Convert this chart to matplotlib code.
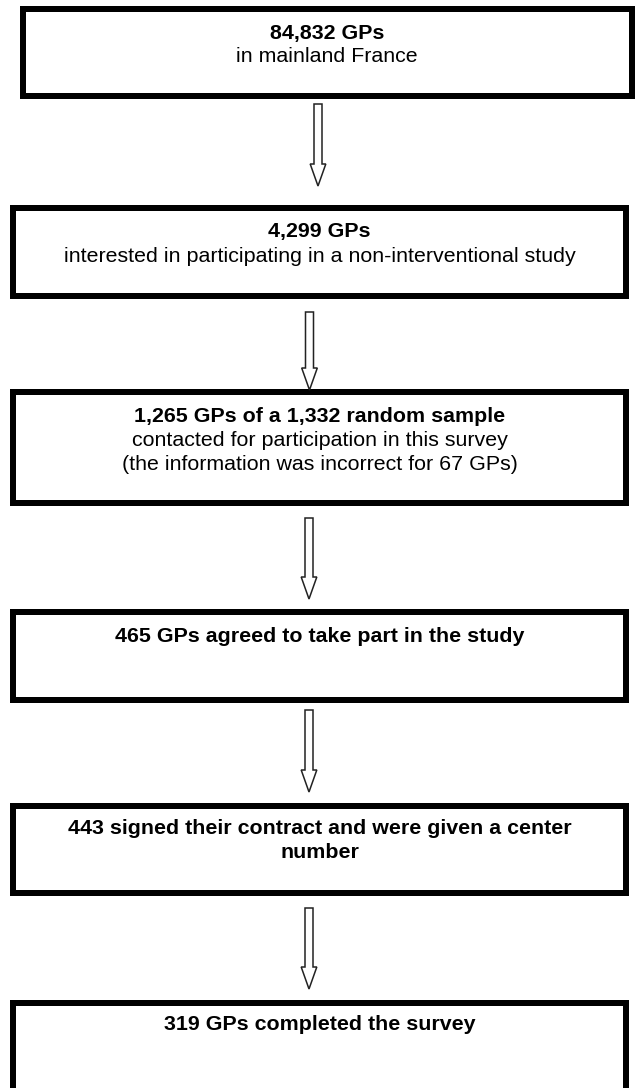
import matplotlib
matplotlib.use("Agg")
import matplotlib.pyplot as plt
from matplotlib.patches import Rectangle, Polygon

# ---- data (flowchart content) ----
gp_counts = ["84,832", "4,299", "1,265", "465", "443", "319"]
box_titles = [
    ["84,832 GPs"],
    ["4,299 GPs"],
    ["1,265 GPs of a 1,332 random sample"],
    ["465 GPs agreed to take part in the study"],
    ["443 signed their contract and were given a center", "number"],
    ["319 GPs completed the survey"],
]
box_subtitles = [
    ["in mainland France"],
    ["interested in participating in a non-interventional study"],
    ["contacted for participation in this survey",
     "(the information was incorrect for 67 GPs)"],
    [],
    [],
    [],
]

# ---- layout (pixel units) ----
W, H = 635, 1088
box_x = [(19.5, 635), (10, 629), (10, 629), (10, 629), (10, 629), (10, 629)]
box_y = [(6, 99), (205, 299), (389, 506), (609, 703), (803, 896), (1000, 1110)]
arrow_cx = [318, 309.5, 309, 309, 309]
arrow_y = [(104, 186), (312, 390), (518, 599), (710, 792), (908, 989)]
title_off = [27, 27, 28, 28, 25, 24]
line_gap = 24
LW_PX = 6

fig = plt.figure(figsize=(W / 100, H / 100), dpi=100)
ax = fig.add_axes([0, 0, 1, 1])
ax.set_xlim(0, W)
ax.set_ylim(H, 0)
ax.axis("off")

lw = LW_PX * 72 / 100
font = ["Liberation Sans", "DejaVu Sans"]
fs = 15.4

for i in range(len(box_titles)):
    x0, x1 = box_x[i]
    y0, y1 = box_y[i]
    h = LW_PX / 2
    ax.add_patch(Rectangle((x0 + h, y0 + h), (x1 - x0) - 2 * h, (y1 - y0) - 2 * h,
                           facecolor="white", edgecolor="black", linewidth=lw,
                           joinstyle="miter", clip_on=True))
    cx = (x0 + x1) / 2
    y = y0 + title_off[i]
    for line in box_titles[i]:
        ax.text(cx, y, line, ha="center", va="center", fontsize=fs,
                fontweight="bold", family=font, color="black")
        y += line_gap
    for line in box_subtitles[i]:
        ax.text(cx, y, line, ha="center", va="center", fontsize=fs,
                family=font, color="black")
        y += line_gap

# block arrows
sw, hw, hl = 4, 7.8, 22
for cx, (ya, yb) in zip(arrow_cx, arrow_y):
    pts = [(cx - sw, ya), (cx + sw, ya), (cx + sw, yb - hl), (cx + hw, yb - hl),
           (cx, yb), (cx - hw, yb - hl), (cx - sw, yb - hl)]
    ax.add_patch(Polygon(pts, closed=True, facecolor="white", edgecolor="#222222",
                         linewidth=1.1, joinstyle="miter"))

fig.savefig("out.png", dpi=100, facecolor="white")
